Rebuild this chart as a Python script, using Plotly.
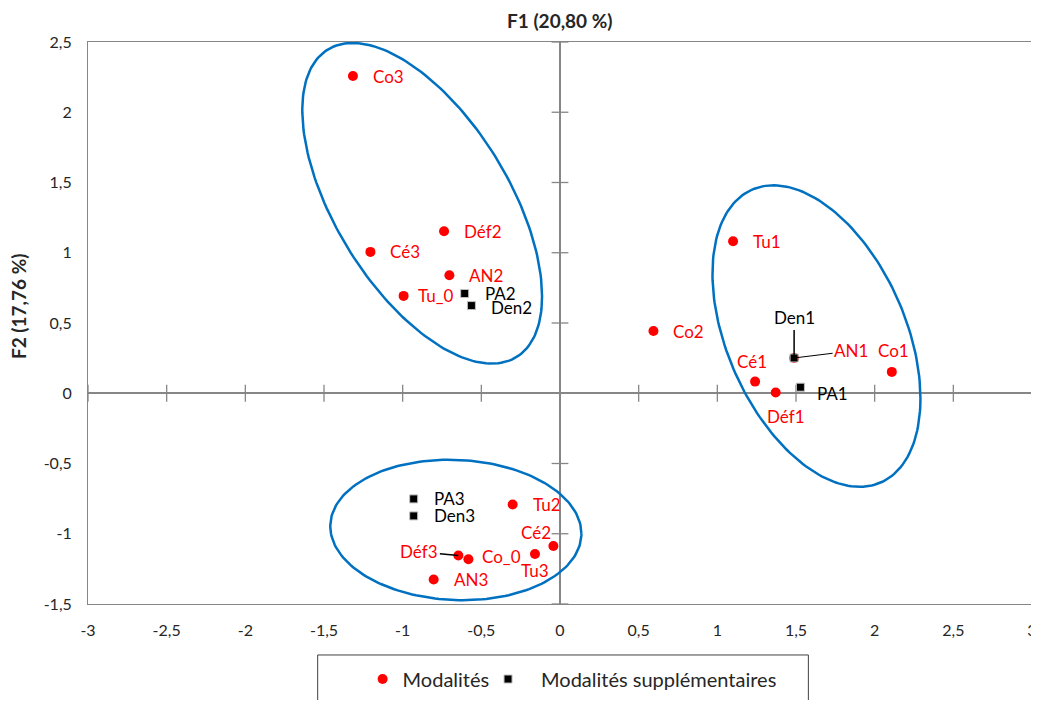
import numpy as np
import plotly.graph_objects as go

# --- data -------------------------------------------------------------
mod_labels = ['Co3', 'Déf2', 'Cé3', 'AN2', 'Tu_0', 'Tu1', 'Co2', 'Cé1', 'Déf1',
              'Co1', 'AN1', 'Tu2', 'Cé2', 'Tu3', 'Déf3', 'Co_0', 'AN3']
mod_x = [-1.316, -0.737, -1.205, -0.703, -0.994, 1.100, 0.594, 1.240, 1.371,
         2.109, 1.488, -0.301, -0.042, -0.159, -0.646, -0.582, -0.803]
mod_y = [2.258, 1.153, 1.006, 0.840, 0.693, 1.082, 0.443, 0.083, 0.005,
         0.152, 0.251, -0.792, -1.087, -1.144, -1.155, -1.181, -1.326]

sup_labels = ['PA1', 'PA2', 'PA3', 'Den1', 'Den2', 'Den3']
sup_x = [1.528, -0.606, -0.930, 1.488, -0.563, -0.930]
sup_y = [0.043, 0.710, -0.752, 0.251, 0.624, -0.873]

# confidence ellipses: centre, half-width, half-height, correlation
ell_cx = [-0.876, 1.630, -0.662]
ell_cy = [1.352, 0.407, -0.973]
ell_w = [0.762, 0.661, 0.798]
ell_h = [1.141, 1.073, 0.500]
ell_r = [-0.580, -0.414, -0.053]

x_ticks = [-3, -2.5, -2, -1.5, -1, -0.5, 0, 0.5, 1, 1.5, 2, 2.5, 3]
y_ticks = [-1.5, -1, -0.5, 0, 0.5, 1, 1.5, 2, 2.5]

# --- label placement (xanchor, xshift, yshift) / leader lines (ax, ay) --
label_pos = {
    'Tu_0': ('left', 12, 0), 'Co_0': ('left', 12, 3), 'PA1': ('left', 15, -6),
    'Den2': ('left', 18, -2),
    'Cé1': ('center', -3, 20), 'Déf1': ('center', 10, -24),
    'Co1': ('center', 2, 21), 'Cé2': ('center', -17, 13), 'Tu3': ('center', 0, -17),
}
leader = {'Déf3': (-39, -4), 'Den1': (0, -40), 'AN1': (57, -7)}

GREY = '#868686'
RED = '#FF0000'
FONT = 'Lato'


def fmt(v):
    return ('%g' % v).replace('.', ',')


fig = go.Figure()

# tick marks crossing the zero lines (Excel style)
fig.add_trace(go.Scatter(
    x=[v for v in x_ticks if v != 0], y=[0] * (len(x_ticks) - 1), mode='markers',
    marker=dict(symbol='line-ns', size=12, line=dict(color=GREY, width=1.3)),
    showlegend=False, hoverinfo='skip'))
fig.add_trace(go.Scatter(
    x=[0] * (len(y_ticks) - 1), y=[v for v in y_ticks if v != 0], mode='markers',
    marker=dict(symbol='line-ew', size=12, line=dict(color=GREY, width=1.3)),
    showlegend=False, hoverinfo='skip'))

# ellipses
t = np.linspace(0, 2 * np.pi, 200)
for cx, cy, w, h, r in zip(ell_cx, ell_cy, ell_w, ell_h, ell_r):
    ex = cx + w * np.cos(t)
    ey = cy + h * (r * np.cos(t) + np.sqrt(1 - r ** 2) * np.sin(t))
    fig.add_trace(go.Scatter(x=ex, y=ey, mode='lines',
                             line=dict(color='#0070C0', width=2.5),
                             showlegend=False, hoverinfo='skip'))

fig.add_trace(go.Scatter(
    x=mod_x, y=mod_y, mode='markers', name='Modalités', text=mod_labels,
    marker=dict(symbol='circle', size=10, color=RED), legend='legend',
    hovertemplate='%{text}<br>F1: %{x}<br>F2: %{y}<extra></extra>'))
fig.add_trace(go.Scatter(
    x=sup_x, y=sup_y, mode='markers', name='Modalités supplémentaires', text=sup_labels,
    marker=dict(symbol='square', size=8, color='black', line=dict(color='#BFBFBF', width=1)),
    legend='legend2',
    hovertemplate='%{text}<br>F1: %{x}<br>F2: %{y}<extra></extra>'))

# point labels
points = [(n, x, y, RED) for n, x, y in zip(mod_labels, mod_x, mod_y)] + \
         [(n, x, y, 'black') for n, x, y in zip(sup_labels, sup_x, sup_y)]
for name, x, y, col in points:
    if name == 'AN1':
        continue
    if name in leader:
        ax, ay = leader[name]
        fig.add_annotation(x=x, y=y, text=name, showarrow=True, arrowhead=0,
                           arrowwidth=1.5, arrowcolor='black', ax=ax, ay=ay,
                           standoff=0, font=dict(family=FONT, size=17, color=col))
        continue
    anchor, dx, dy = label_pos.get(name, ('left', 18, 0))
    fig.add_annotation(x=x, y=y, text=name, showarrow=False, xanchor=anchor,
                       xshift=dx, yshift=dy, font=dict(family=FONT, size=17, color=col))
# AN1 sits under the Den1 square; its label is pulled out with a leader line
i = mod_labels.index('AN1')
fig.add_annotation(x=mod_x[i], y=mod_y[i], text='AN1', showarrow=True, arrowhead=0,
                   arrowwidth=1, arrowcolor='black', ax=leader['AN1'][0], ay=leader['AN1'][1],
                   standoff=0, font=dict(family=FONT, size=17, color=RED))

# axis titles
fig.add_annotation(x=0.5, y=1.039, xref='paper', yref='paper', text='<b>F1 (20,80 %)</b>',
                   xanchor='center', yanchor='middle',
                   showarrow=False, font=dict(family=FONT, size=19, color='#262626'))
fig.add_annotation(x=-0.0742, y=0.53, xref='paper', yref='paper', text='<b>F2 (17,76 %)</b>',
                   xanchor='center', yanchor='middle',
                   textangle=-90, showarrow=False, font=dict(family=FONT, size=19, color='#262626'))

# legend frame
fig.add_shape(type='rect', xref='paper', yref='paper', x0=0.2433, x1=0.7631,
              y0=-0.0907, y1=-0.2, line=dict(color='#404040', width=1))

leg_font = dict(family=FONT, size=20, color='#262626')

# the page body adds an 8 px offset, so the figure is made smaller
fig.update_layout(
    width=1031, height=692,
    margin=dict(l=80, r=7, t=34, b=96, autoexpand=False),
    plot_bgcolor='white', paper_bgcolor='white',
    font=dict(family=FONT, size=16, color='#262626'),
    xaxis=dict(range=[-3, 3], tickvals=x_ticks, ticktext=[fmt(v) for v in x_ticks],
               showgrid=False, zeroline=True, zerolinecolor=GREY, zerolinewidth=1.5,
               showline=True, mirror=True, linecolor=GREY, linewidth=1,
               ticks='outside', ticklen=12, tickcolor='rgba(0,0,0,0)',
               ticklabeloverflow='allow'),
    yaxis=dict(range=[-1.5, 2.5], tickvals=y_ticks, ticktext=[fmt(v) for v in y_ticks],
               showgrid=False, zeroline=True, zerolinecolor=GREY, zerolinewidth=1.5,
               showline=True, mirror=True, linecolor=GREY, linewidth=1,
               ticks='outside', ticklen=12, tickcolor='rgba(0,0,0,0)'),
    legend=dict(orientation='h', x=0.2909, xanchor='left', y=-0.1335, yanchor='middle',
                bgcolor='rgba(0,0,0,0)', font=leg_font),
    legend2=dict(orientation='h', x=0.41, xanchor='left', y=-0.1335, yanchor='middle',
                 itemwidth=56, bgcolor='rgba(0,0,0,0)', font=leg_font),
)

fig.write_html('out.html')
